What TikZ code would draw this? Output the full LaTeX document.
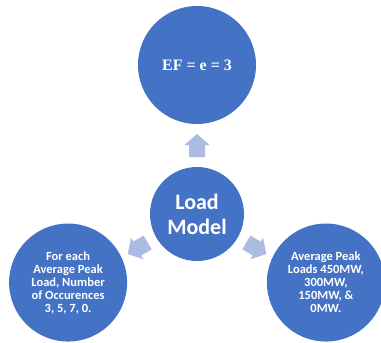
\documentclass[tikz,border=0pt]{standalone}
\usepackage{fontspec}
\setmainfont{Carlito}
\newfontfamily\timesfont{Liberation Serif}
\usetikzlibrary{
    calc,
    positioning
}
\definecolor{hubblue}{RGB}{68,114,196}
\definecolor{spokeblue}{RGB}{171,187,225}
\tikzset{
  hub/.style = {
      circle,
      fill=hubblue,
      text=white,
      font=\bfseries\fontsize{22}{25}\selectfont,
      align=center,
      minimum size=94pt,
      inner sep=0pt
  },
  leaf/.style = {
      circle,
      fill=hubblue,
      text=white,
      font=\bfseries\fontsize{12.5}{13}\selectfont,
      align=center,
      minimum size=118pt,
      inner sep=0pt
  },
  spoke/.style = {
      fill=spokeblue,
      draw=none
  }
}

\begin{document}
\begin{tikzpicture}[x=1pt, y=1pt]
    \useasboundingbox (0,0) rectangle (381,-343);
    \node[hub] (load) at (197,-214) {Load\\Model};
    \node[leaf, font=\timesfont\bfseries\fontsize{16}{18}\selectfont] (ef) at ($(load)+(90:149)$) {EF = e = 3};
    \node[leaf] (occur) at ($(load)+(208:146)$) {For each\\Average Peak\\Load, Number\\of Occurences\\3, 5, 7, 0.};
    \node[leaf] (peaks) at ($(load)+(332:146)$) {Average Peak\\Loads 450MW,\\300MW,\\150MW, \&\\0MW.};
    % Arrows
    \foreach \a in {90,210,330}
      \fill[spoke, shift={(load)}, rotate=\a] (57,-8) -- (69,-8) -- (69,-12.5) -- (80,0) -- (69,12.5) -- (69,8) -- (57,8) -- cycle;
\end{tikzpicture}
\end{document}
